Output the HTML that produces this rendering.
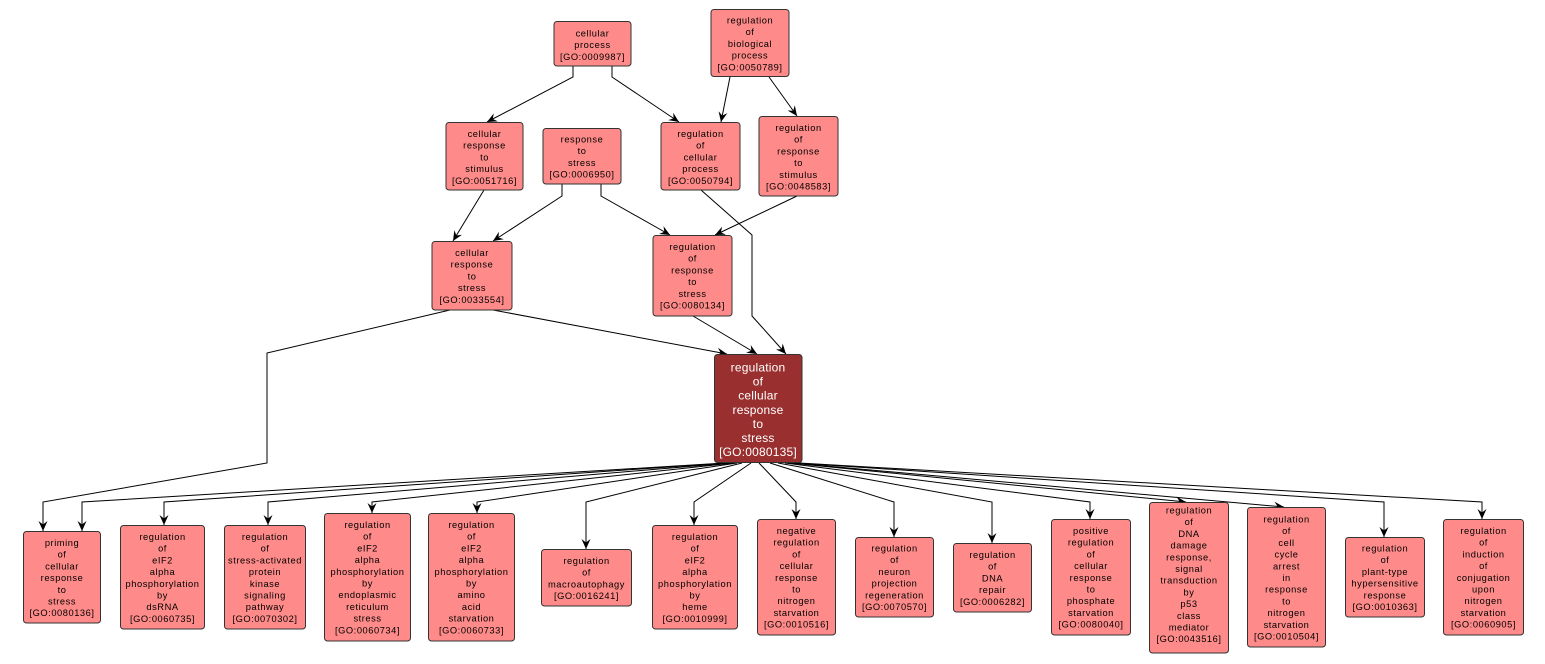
<!DOCTYPE html>
<html><head><meta charset="utf-8"><style>
html,body{margin:0;padding:0;background:#fff;}
svg{display:block;}
.n{fill:#fe8b89;stroke:#333;stroke-width:1;}
.m{fill:#9a2f2f;stroke:#333;stroke-width:1;}
.t{font-family:"Liberation Sans",Arial,sans-serif;font-size:9.3px;letter-spacing:0.55px;fill:#000;text-anchor:middle;}
.tm{font-family:"Liberation Sans",Arial,sans-serif;font-size:12px;letter-spacing:0.2px;fill:#fff;text-anchor:middle;}
.e{fill:none;stroke:#000;stroke-width:1;marker-end:url(#ar);}
</style></head><body>
<svg width="1545" height="664" viewBox="0 0 1545 664" xmlns="http://www.w3.org/2000/svg">
<defs>
<marker id="ar" viewBox="0 0 10 10" refX="10" refY="5" markerWidth="10" markerHeight="10" markerUnits="userSpaceOnUse" orient="auto">
<path d="M0,0.5 L10,5 L0,9.5 L3.5,5 z" fill="#000"/>
</marker>
</defs>
<rect width="1545" height="664" fill="#fff"/>

<!-- edges -->
<polyline class="e" points="573,66 573,77 487,122"/>
<polyline class="e" points="612,66 612,77 679,122"/>
<polyline class="e" points="730,77 721,122"/>
<polyline class="e" points="769,77 797,116"/>
<polyline class="e" points="484,190 453,241"/>
<polyline class="e" points="562,184 562,196 493,241"/>
<polyline class="e" points="601,184 601,196 670,235"/>
<polyline class="e" points="797,196 715,235"/>
<polyline class="e" points="701,190 752,235 752,316 786,354"/>
<polyline class="e" points="693,316 757,354"/>
<polyline class="e" points="493,310 727,354"/>
<polyline class="e" points="450,310 267,353 267,463 43,502 43,531"/>

<polyline class="e" points="725,463 82,502 82,531"/>
<polyline class="e" points="727,463 164,502 164,525"/>
<polyline class="e" points="730,463 268,502 268,525"/>
<polyline class="e" points="733,463 372,502 372,513"/>
<polyline class="e" points="737,463 477,502 477,513"/>
<polyline class="e" points="742,463 586,502 586,549"/>
<polyline class="e" points="751,463 694,502 694,525"/>
<polyline class="e" points="759,463 796,502 796,519"/>
<polyline class="e" points="770,463 894,502 894,537"/>
<polyline class="e" points="778,463 992,502 992,543"/>
<polyline class="e" points="785,463 1090,502 1090,519"/>
<polyline class="e" points="790,463 1186,502"/>
<polyline class="e" points="793,463 1284,507"/>
<polyline class="e" points="796,463 1384,502 1384,537"/>
<polyline class="e" points="799,463 1482,502 1482,519"/>

<!-- top nodes -->
<rect class="n" x="554" y="21.5" width="77" height="44.5" rx="3"/>
<text class="t" x="592.5" y="36.5"><tspan x="592.5" dy="0">cellular</tspan><tspan x="592.5" dy="11.7">process</tspan><tspan x="592.5" dy="11.7">[GO:0009987]</tspan></text>

<rect class="n" x="711" y="9.5" width="78" height="67" rx="3"/>
<text class="t" x="750" y="23.5"><tspan x="750" dy="0">regulation</tspan><tspan x="750" dy="11.7">of</tspan><tspan x="750" dy="11.7">biological</tspan><tspan x="750" dy="11.7">process</tspan><tspan x="750" dy="11.7">[GO:0050789]</tspan></text>

<rect class="n" x="446" y="122.5" width="77" height="67.5" rx="3"/>
<text class="t" x="484.5" y="137"><tspan x="484.5" dy="0">cellular</tspan><tspan x="484.5" dy="11.7">response</tspan><tspan x="484.5" dy="11.7">to</tspan><tspan x="484.5" dy="11.7">stimulus</tspan><tspan x="484.5" dy="11.7">[GO:0051716]</tspan></text>

<rect class="n" x="543" y="128.5" width="78" height="55.5" rx="3"/>
<text class="t" x="582" y="142.5"><tspan x="582" dy="0">response</tspan><tspan x="582" dy="11.7">to</tspan><tspan x="582" dy="11.7">stress</tspan><tspan x="582" dy="11.7">[GO:0006950]</tspan></text>

<rect class="n" x="661" y="122.5" width="79" height="67.5" rx="3"/>
<text class="t" x="700.5" y="137"><tspan x="700.5" dy="0">regulation</tspan><tspan x="700.5" dy="11.7">of</tspan><tspan x="700.5" dy="11.7">cellular</tspan><tspan x="700.5" dy="11.7">process</tspan><tspan x="700.5" dy="11.7">[GO:0050794]</tspan></text>

<rect class="n" x="759" y="116.5" width="79" height="79.5" rx="3"/>
<text class="t" x="798.5" y="131"><tspan x="798.5" dy="0">regulation</tspan><tspan x="798.5" dy="11.7">of</tspan><tspan x="798.5" dy="11.7">response</tspan><tspan x="798.5" dy="11.7">to</tspan><tspan x="798.5" dy="11.7">stimulus</tspan><tspan x="798.5" dy="11.7">[GO:0048583]</tspan></text>

<rect class="n" x="432" y="241.5" width="80" height="68.5" rx="3"/>
<text class="t" x="472" y="256"><tspan x="472" dy="0">cellular</tspan><tspan x="472" dy="11.7">response</tspan><tspan x="472" dy="11.7">to</tspan><tspan x="472" dy="11.7">stress</tspan><tspan x="472" dy="11.7">[GO:0033554]</tspan></text>

<rect class="n" x="653" y="235.5" width="79" height="80.5" rx="3"/>
<text class="t" x="692.5" y="250"><tspan x="692.5" dy="0">regulation</tspan><tspan x="692.5" dy="11.7">of</tspan><tspan x="692.5" dy="11.7">response</tspan><tspan x="692.5" dy="11.7">to</tspan><tspan x="692.5" dy="11.7">stress</tspan><tspan x="692.5" dy="11.7">[GO:0080134]</tspan></text>

<!-- main -->
<rect class="m" x="714.5" y="354.5" width="87.5" height="108" rx="3"/>
<text class="tm" x="758" y="371.5"><tspan x="758" dy="0">regulation</tspan><tspan x="758" dy="14.1">of</tspan><tspan x="758" dy="14.1">cellular</tspan><tspan x="758" dy="14.1">response</tspan><tspan x="758" dy="14.1">to</tspan><tspan x="758" dy="14.1">stress</tspan><tspan x="758" dy="14.1">[GO:0080135]</tspan></text>

<!-- bottom row -->
<rect class="n" x="23.5" y="531.5" width="77" height="91.5" rx="3"/>
<text class="t" x="62" y="546"><tspan x="62" dy="0">priming</tspan><tspan x="62" dy="11.7">of</tspan><tspan x="62" dy="11.7">cellular</tspan><tspan x="62" dy="11.7">response</tspan><tspan x="62" dy="11.7">to</tspan><tspan x="62" dy="11.7">stress</tspan><tspan x="62" dy="11.7">[GO:0080136]</tspan></text>

<rect class="n" x="120.5" y="525.5" width="84" height="103.5" rx="3"/>
<text class="t" x="162.5" y="540"><tspan x="162.5" dy="0">regulation</tspan><tspan x="162.5" dy="11.7">of</tspan><tspan x="162.5" dy="11.7">eIF2</tspan><tspan x="162.5" dy="11.7">alpha</tspan><tspan x="162.5" dy="11.7">phosphorylation</tspan><tspan x="162.5" dy="11.7">by</tspan><tspan x="162.5" dy="11.7">dsRNA</tspan><tspan x="162.5" dy="11.7">[GO:0060735]</tspan></text>

<rect class="n" x="224.5" y="525.5" width="81" height="103.5" rx="3"/>
<text class="t" x="265" y="540"><tspan x="265" dy="0">regulation</tspan><tspan x="265" dy="11.7">of</tspan><tspan x="265" dy="11.7">stress-activated</tspan><tspan x="265" dy="11.7">protein</tspan><tspan x="265" dy="11.7">kinase</tspan><tspan x="265" dy="11.7">signaling</tspan><tspan x="265" dy="11.7">pathway</tspan><tspan x="265" dy="11.7">[GO:0070302]</tspan></text>

<rect class="n" x="324.5" y="513.5" width="86" height="127.5" rx="3"/>
<text class="t" x="367.5" y="528"><tspan x="367.5" dy="0">regulation</tspan><tspan x="367.5" dy="11.7">of</tspan><tspan x="367.5" dy="11.7">eIF2</tspan><tspan x="367.5" dy="11.7">alpha</tspan><tspan x="367.5" dy="11.7">phosphorylation</tspan><tspan x="367.5" dy="11.7">by</tspan><tspan x="367.5" dy="11.7">endoplasmic</tspan><tspan x="367.5" dy="11.7">reticulum</tspan><tspan x="367.5" dy="11.7">stress</tspan><tspan x="367.5" dy="11.7">[GO:0060734]</tspan></text>

<rect class="n" x="428.5" y="513.5" width="86" height="127.5" rx="3"/>
<text class="t" x="471.5" y="528"><tspan x="471.5" dy="0">regulation</tspan><tspan x="471.5" dy="11.7">of</tspan><tspan x="471.5" dy="11.7">eIF2</tspan><tspan x="471.5" dy="11.7">alpha</tspan><tspan x="471.5" dy="11.7">phosphorylation</tspan><tspan x="471.5" dy="11.7">by</tspan><tspan x="471.5" dy="11.7">amino</tspan><tspan x="471.5" dy="11.7">acid</tspan><tspan x="471.5" dy="11.7">starvation</tspan><tspan x="471.5" dy="11.7">[GO:0060733]</tspan></text>

<rect class="n" x="541.5" y="549.5" width="90" height="56.5" rx="3"/>
<text class="t" x="586.5" y="564"><tspan x="586.5" dy="0">regulation</tspan><tspan x="586.5" dy="11.7">of</tspan><tspan x="586.5" dy="11.7">macroautophagy</tspan><tspan x="586.5" dy="11.7">[GO:0016241]</tspan></text>

<rect class="n" x="652.5" y="525.5" width="85" height="103.5" rx="3"/>
<text class="t" x="695" y="540"><tspan x="695" dy="0">regulation</tspan><tspan x="695" dy="11.7">of</tspan><tspan x="695" dy="11.7">eIF2</tspan><tspan x="695" dy="11.7">alpha</tspan><tspan x="695" dy="11.7">phosphorylation</tspan><tspan x="695" dy="11.7">by</tspan><tspan x="695" dy="11.7">heme</tspan><tspan x="695" dy="11.7">[GO:0010999]</tspan></text>

<rect class="n" x="757.5" y="519.5" width="78" height="115.5" rx="3"/>
<text class="t" x="796.5" y="534"><tspan x="796.5" dy="0">negative</tspan><tspan x="796.5" dy="11.7">regulation</tspan><tspan x="796.5" dy="11.7">of</tspan><tspan x="796.5" dy="11.7">cellular</tspan><tspan x="796.5" dy="11.7">response</tspan><tspan x="796.5" dy="11.7">to</tspan><tspan x="796.5" dy="11.7">nitrogen</tspan><tspan x="796.5" dy="11.7">starvation</tspan><tspan x="796.5" dy="11.7">[GO:0010516]</tspan></text>

<rect class="n" x="855.5" y="537.5" width="78" height="79.5" rx="3"/>
<text class="t" x="894.5" y="551.5"><tspan x="894.5" dy="0">regulation</tspan><tspan x="894.5" dy="11.7">of</tspan><tspan x="894.5" dy="11.7">neuron</tspan><tspan x="894.5" dy="11.7">projection</tspan><tspan x="894.5" dy="11.7">regeneration</tspan><tspan x="894.5" dy="11.7">[GO:0070570]</tspan></text>

<rect class="n" x="953.5" y="543.5" width="78" height="68.5" rx="3"/>
<text class="t" x="992.5" y="558"><tspan x="992.5" dy="0">regulation</tspan><tspan x="992.5" dy="11.7">of</tspan><tspan x="992.5" dy="11.7">DNA</tspan><tspan x="992.5" dy="11.7">repair</tspan><tspan x="992.5" dy="11.7">[GO:0006282]</tspan></text>

<rect class="n" x="1051.5" y="519.5" width="79" height="115.5" rx="3"/>
<text class="t" x="1091" y="534"><tspan x="1091" dy="0">positive</tspan><tspan x="1091" dy="11.7">regulation</tspan><tspan x="1091" dy="11.7">of</tspan><tspan x="1091" dy="11.7">cellular</tspan><tspan x="1091" dy="11.7">response</tspan><tspan x="1091" dy="11.7">to</tspan><tspan x="1091" dy="11.7">phosphate</tspan><tspan x="1091" dy="11.7">starvation</tspan><tspan x="1091" dy="11.7">[GO:0080040]</tspan></text>

<rect class="n" x="1149.5" y="502.5" width="79" height="150.5" rx="3"/>
<text class="t" x="1189" y="513.5"><tspan x="1189" dy="0">regulation</tspan><tspan x="1189" dy="11.7">of</tspan><tspan x="1189" dy="11.7">DNA</tspan><tspan x="1189" dy="11.7">damage</tspan><tspan x="1189" dy="11.7">response,</tspan><tspan x="1189" dy="11.7">signal</tspan><tspan x="1189" dy="11.7">transduction</tspan><tspan x="1189" dy="11.7">by</tspan><tspan x="1189" dy="11.7">p53</tspan><tspan x="1189" dy="11.7">class</tspan><tspan x="1189" dy="11.7">mediator</tspan><tspan x="1189" dy="11.7">[GO:0043516]</tspan></text>

<rect class="n" x="1247.5" y="507.5" width="78" height="139.5" rx="3"/>
<text class="t" x="1286.5" y="522.5"><tspan x="1286.5" dy="0">regulation</tspan><tspan x="1286.5" dy="11.7">of</tspan><tspan x="1286.5" dy="11.7">cell</tspan><tspan x="1286.5" dy="11.7">cycle</tspan><tspan x="1286.5" dy="11.7">arrest</tspan><tspan x="1286.5" dy="11.7">in</tspan><tspan x="1286.5" dy="11.7">response</tspan><tspan x="1286.5" dy="11.7">to</tspan><tspan x="1286.5" dy="11.7">nitrogen</tspan><tspan x="1286.5" dy="11.7">starvation</tspan><tspan x="1286.5" dy="11.7">[GO:0010504]</tspan></text>

<rect class="n" x="1345.5" y="537.5" width="79" height="79.5" rx="3"/>
<text class="t" x="1385" y="551.5"><tspan x="1385" dy="0">regulation</tspan><tspan x="1385" dy="11.7">of</tspan><tspan x="1385" dy="11.7">plant-type</tspan><tspan x="1385" dy="11.7">hypersensitive</tspan><tspan x="1385" dy="11.7">response</tspan><tspan x="1385" dy="11.7">[GO:0010363]</tspan></text>

<rect class="n" x="1443.5" y="519.5" width="80" height="115.5" rx="3"/>
<text class="t" x="1483.5" y="534"><tspan x="1483.5" dy="0">regulation</tspan><tspan x="1483.5" dy="11.7">of</tspan><tspan x="1483.5" dy="11.7">induction</tspan><tspan x="1483.5" dy="11.7">of</tspan><tspan x="1483.5" dy="11.7">conjugation</tspan><tspan x="1483.5" dy="11.7">upon</tspan><tspan x="1483.5" dy="11.7">nitrogen</tspan><tspan x="1483.5" dy="11.7">starvation</tspan><tspan x="1483.5" dy="11.7">[GO:0060905]</tspan></text>
</svg>
</body></html>
